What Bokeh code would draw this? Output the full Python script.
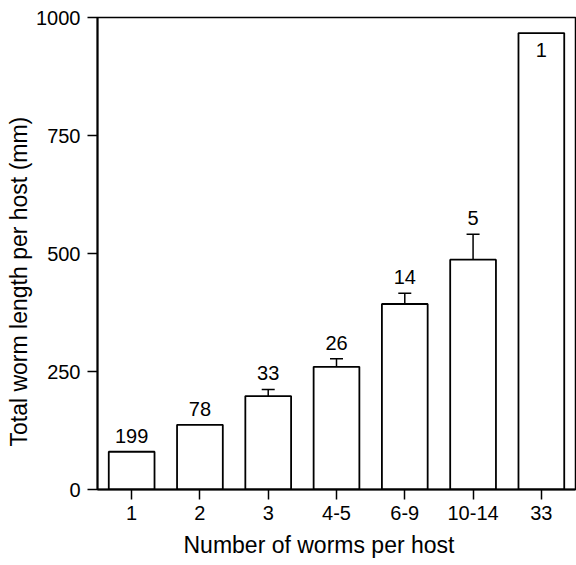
from bokeh.plotting import figure
from bokeh.models import ColumnDataSource, Whisker, TeeHead, FixedTicker, Title
from bokeh.embed import file_html
from bokeh.resources import INLINE
from bokeh.core.properties import value

categories = ["1", "2", "3", "4-5", "6-9", "10-14", "33"]
mean_length = [80, 137, 198, 260, 393, 487, 967]
sem = [0, 0, 14, 17, 23, 54, 0]
hosts = ["199", "78", "33", "26", "14", "5", "1"]

FONT = "Liberation Sans"

p = figure(width=576, height=565, x_range=categories, y_range=(0, 1000),
           output_backend="svg", toolbar_location=None,
           min_border_left=97, min_border_right=1, min_border_top=17, min_border_bottom=76)
p.x_range.range_padding = 0
p.grid.visible = False
p.outline_line_color = "black"
p.outline_line_width = 1.5
p.background_fill_color = "white"
p.border_fill_color = "white"

src = ColumnDataSource(dict(cat=categories, top=mean_length))
p.vbar(x="cat", top="top", width=0.67, source=src, fill_color="white",
       line_color="black", line_width=1.8)

ecat = [c for c, s in zip(categories, sem) if s > 0]
eup = [m + s for m, s in zip(mean_length, sem) if s > 0]
elo = [m - s for m, s in zip(mean_length, sem) if s > 0]
esrc = ColumnDataSource(dict(cat=ecat, upper=eup, lower=elo))
w = Whisker(base="cat", upper="upper", lower="lower", source=esrc,
            line_color="black", line_width=1.5,
            upper_head=TeeHead(size=13, line_color="black", line_width=1.5),
            lower_head=TeeHead(size=13, line_color="black", line_width=1.5))
p.add_layout(w)

lab_cat_out, lab_y_out, lab_t_out = [], [], []
lab_cat_in, lab_y_in, lab_t_in = [], [], []
for c, m, s, h in zip(categories, mean_length, sem, hosts):
    if m > 900:
        lab_cat_in.append(c); lab_y_in.append(m); lab_t_in.append(h)
    else:
        lab_cat_out.append(c); lab_y_out.append(m + s); lab_t_out.append(h)

p.text(x=lab_cat_out, y=lab_y_out, text=lab_t_out, text_align="center",
       text_baseline="alphabetic", y_offset=-16, text_font=value(FONT),
       text_font_size="20px", text_color="black")
p.text(x=lab_cat_in, y=lab_y_in, text=lab_t_in, text_align="center",
       text_baseline="alphabetic", y_offset=17, text_font=value(FONT),
       text_font_size="20px", text_color="black")

p.yaxis.ticker = FixedTicker(ticks=[0, 250, 500, 750, 1000])
for ax in (p.xaxis[0], p.yaxis[0]):
    ax.axis_line_color = "black"
    ax.axis_line_width = 2
    ax.major_tick_line_color = "black"
    ax.major_tick_line_width = 1.5
    ax.major_tick_out = 10
    ax.major_tick_in = 0
    ax.minor_tick_line_color = None
    ax.major_label_text_font = FONT
    ax.major_label_text_font_size = "20px"
    ax.major_label_text_color = "black"
p.xaxis.major_label_standoff = 6
p.yaxis.major_label_standoff = 7

ytitle = Title(text="Total worm length per host (mm)", align="left", offset=43,
               text_font=FONT, text_font_size="23px", text_font_style="normal",
               text_color="black", standoff=4)
p.add_layout(ytitle, "left")
xtitle = Title(text="Number of worms per host", align="left", offset=86,
               text_font=FONT, text_font_size="23px", text_font_style="normal",
               text_color="black", standoff=15)
p.add_layout(xtitle, "below")

open("out.html", "w").write(file_html(p, INLINE))
